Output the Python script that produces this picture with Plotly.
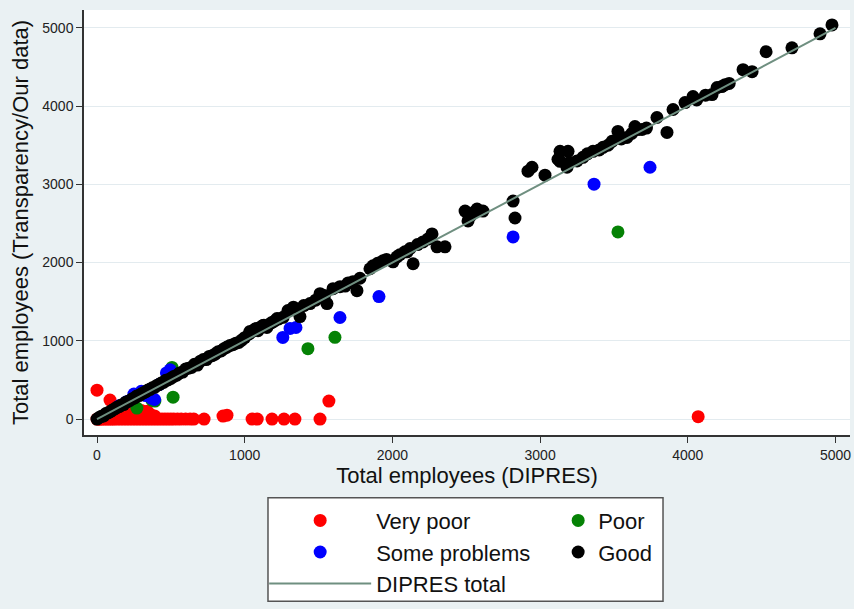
import plotly.graph_objects as go

# ---------------- data ----------------
vp_x = [0, 88, 0, 10, 20, 30, 45, 60, 75, 90, 105, 120, 140, 160, 180, 200, 220, 240, 260,
        280, 300, 320, 340, 360, 380, 400, 420, 440, 460, 480, 500, 520, 545, 570, 600,
        630, 655, 150, 200, 250, 300, 340, 360, 390, 725, 853, 880, 1050, 1085, 1185,
        1266, 1340, 1510, 1570, 4070]
vp_y = [369, 242, 0, 0, 0, 0, 0, 0, 0, 0, 0, 0, 0, 0, 0, 0, 0, 0, 0,
        0, 0, 0, 0, 0, 0, 0, 0, 0, 0, 0, 0, 0, 0, 0, 0,
        0, 0, 60, 90, 70, 110, 100, 60, 40, 0, 38, 50, 0, 0, 0,
        0, 0, 0, 230, 30]

poor_x = [270, 372, 392, 508, 515, 1428, 1611, 3527]
poor_y = [140, 240, 230, 660, 280, 900, 1045, 2392]

sp_x = [150, 200, 250, 300, 330, 370, 390, 420, 470, 495, 1258, 1307, 1347, 1645,
        1909, 2817, 3365, 3744]
sp_y = [170, 220, 320, 355, 300, 265, 250, 440, 590, 630, 1043, 1158, 1170, 1298,
        1565, 2328, 3003, 3219]

good_x = [0, 15, 30, 45, 60, 75, 90, 105, 120, 135, 150, 165, 180, 195, 210, 225, 240,
          255, 270, 285, 300, 315, 330, 345, 360, 375, 390, 405, 420, 435, 450, 465, 480,
          500, 520, 540, 560, 580, 600, 620, 640, 660, 680, 700, 720, 740, 760, 780, 800,
          820, 840, 860, 880, 900, 920, 940, 960, 980, 1000, 1030, 1050, 1070, 1090, 1110,
          1130, 1150, 1180, 1200, 1230, 1260,
          1036, 1083, 1124, 1219, 1293, 1374, 1442, 1510, 1557, 1598, 1645, 1733, 1760,
          1848, 1869, 1936, 2004, 2085, 2031, 2099, 2140, 2207, 2268, 2302, 2356, 2492,
          2512, 2573, 2613, 2817, 2830, 2918, 2945, 3033, 3121, 3135, 3189, 3135, 3182,
          3290, 3358, 3426, 3487, 3527, 3588, 3642, 3690, 3791, 3859, 3900, 3981, 4035,
          4164, 4198, 4252, 4374, 4435, 4530, 4705, 4895, 4976,
          1330, 1400, 1480, 1540, 1680, 1700, 1780, 1900, 1960, 2050, 2120, 2170, 2240,
          2530, 2550, 3200, 3250, 3320, 3400, 3460, 3550, 3620, 3660, 3720, 4060, 4120,
          4230, 4280]
good_y = [0, 20, 35, 40, 70, 80, 95, 115, 130, 150, 160, 180, 185, 215, 225, 240, 260,
          270, 295, 300, 320, 335, 350, 370, 380, 400, 405, 430, 440, 460, 470, 495, 500,
          520, 545, 560, 590, 600, 640, 650, 660, 700, 690, 740, 760, 760, 800, 810, 830,
          860, 870, 900, 920, 940, 950, 970, 980, 1010, 1040, 1090, 1120, 1150, 1130, 1180,
          1200, 1170, 1230, 1250, 1280, 1300,
          1120, 1158, 1196, 1285, 1387, 1310, 1476, 1603, 1476, 1667, 1692, 1756, 1641,
          1921, 1959, 2023, 2010, 2137, 2074, 2137, 1985, 2264, 2366, 2201, 2201, 2659,
          2532, 2684, 2659, 2786, 2570, 3168, 3219, 3117, 3321, 3422, 3422, 3295, 3219,
          3346, 3422, 3473, 3550, 3677, 3600, 3740, 3702, 3855, 3664, 3957, 4046, 4122,
          4148, 4237, 4275, 4466, 4440, 4695, 4746, 4924, 5038,
          1430, 1450, 1520, 1580, 1700, 1740, 1800, 1990, 2040, 2100, 2180, 2230, 2300,
          2600, 2640, 3280, 3300, 3390, 3440, 3500, 3580, 3650, 3700, 3720, 4080, 4140,
          4250, 4290]

line_x = [0, 5000]
line_y = [0, 5000]

x_ticks = [0, 1000, 2000, 3000, 4000, 5000]
y_ticks = [0, 1000, 2000, 3000, 4000, 5000]

# ---------------- figure ----------------
FONT = "Liberation Sans, Arial, Helvetica, sans-serif"
MS = 13

fig = go.Figure()
fig.add_trace(go.Scatter(x=vp_x, y=vp_y, mode="markers", name="Very poor",
                         marker=dict(color="#ff0000", size=MS), legend="legend"))
fig.add_trace(go.Scatter(x=poor_x, y=poor_y, mode="markers", name="Poor",
                         marker=dict(color="#058205", size=MS), legend="legend2"))
fig.add_trace(go.Scatter(x=sp_x, y=sp_y, mode="markers", name="Some problems",
                         marker=dict(color="#0000ff", size=MS), legend="legend"))
fig.add_trace(go.Scatter(x=good_x, y=good_y, mode="markers", name="Good",
                         marker=dict(color="#000000", size=MS), legend="legend2"))
fig.add_trace(go.Scatter(x=line_x, y=line_y, mode="lines", name="DIPRES total",
                         line=dict(color="#6f8f80", width=2), legend="legend"))

axis_common = dict(
    showline=True, linecolor="#333333", linewidth=1.5,
    ticks="outside", ticklen=6, tickcolor="#333333", tickwidth=1.2,
    tickfont=dict(family=FONT, size=14, color="#222222"),
    zeroline=False,
)

fig.update_xaxes(range=[-88, 5098], tickvals=x_ticks, showgrid=False,
                 title=dict(text="Total employees (DIPRES)",
                            font=dict(family=FONT, size=22, color="#111111"),
                            standoff=6),
                 **axis_common)
fig.update_yaxes(range=[-204, 5229], tickvals=y_ticks, showgrid=True,
                 gridcolor="#e3ebef", gridwidth=1,
                 title=dict(text="Total employees (Transparency/Our data)",
                            font=dict(family=FONT, size=22, color="#111111"),
                            standoff=8),
                 **axis_common)

leg_font = dict(family=FONT, size=22, color="#111111")
fig.update_layout(
    width=854, height=609,
    margin=dict(l=84, r=4, t=10, b=172),
    paper_bgcolor="#eaf1f3",
    plot_bgcolor="#ffffff",
    font=dict(family=FONT),
    showlegend=True,
    legend=dict(x=0.2352, xanchor="left", y=-0.152, yanchor="top",
                orientation="v", bgcolor="rgba(0,0,0,0)", borderwidth=0,
                font=leg_font, itemwidth=102),
    legend2=dict(x=0.619, xanchor="left", y=-0.152, yanchor="top",
                 orientation="v", bgcolor="rgba(0,0,0,0)", borderwidth=0,
                 font=leg_font, itemwidth=30),
    shapes=[dict(type="rect", xref="paper", yref="paper",
                 x0=0.2402, x1=0.7559, y0=-0.3911, y1=-0.1475,
                 line=dict(color="#555555", width=1.5), fillcolor="#ffffff",
                 layer="below")],
)

fig.write_html("out.html")
